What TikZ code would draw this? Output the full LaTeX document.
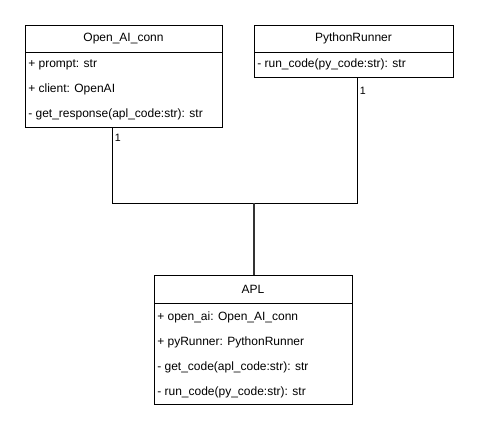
\documentclass[tikz,border=0pt]{standalone}
\usepackage{fontspec}
\setmainfont{Liberation Sans}
\usetikzlibrary{fit}
\begin{document}
\begin{tikzpicture}[x=0.75pt,y=-0.75pt,
  font=\fontsize{9}{11}\selectfont,
  box/.style={draw=black, line width=0.75pt, inner sep=0pt, fill=white},
  head/.style={anchor=center, inner sep=0pt},
  attr/.style={anchor=west, inner sep=0pt},
  mult/.style={font=\fontsize{8}{9}\selectfont, anchor=west, inner sep=0pt},
  link/.style={draw=black, line width=0.75pt},
  stem/.style={draw=black!80, line width=1.3pt}]
\useasboundingbox[fill=white] (0,0) rectangle (479,436);

% connectors
\coordinate (jl) at (112,203);
\coordinate (jr) at (357,203);
\coordinate (jm) at (254,203);

% Open_AI_conn
\node[box, fit={(25,25) (222,127)}] (oa) {};
\node[box, fit={(25,25) (222,52)}] (oah) {};
\node[head] (oat) at (oah.center) {Open\_AI\_conn};
\node[attr] (oa1) at (28,64.5) {+ prompt: str};
\node[attr] (oa2) at (28,89.5) {+ client: OpenAI};
\node[attr] (oa3) at (28,114.5) {- get\_response(apl\_code:str): str};

% PythonRunner
\node[box, fit={(254,25) (453,77)}] (pr) {};
\node[box, fit={(254,25) (453,52)}] (prh) {};
\node[head] (prt) at (prh.center) {PythonRunner};
\node[attr] (pr1) at (257,64.5) {- run\_code(py\_code:str): str};

% APL
\node[box, fit={(154,275) (352,404)}] (apl) {};
\node[box, fit={(154,275) (352,303)}] (aplh) {};
\node[head] (aplt) at (aplh.center) {APL};
\node[attr] (apl1) at (157,317) {+ open\_ai: Open\_AI\_conn};
\node[attr] (apl2) at (157,342) {+ pyRunner: PythonRunner};
\node[attr] (apl3) at (157,367) {- get\_code(apl\_code:str): str};
\node[attr] (apl4) at (157,392) {- run\_code(py\_code:str): str};

\draw[link] (oa.south -| jl) -- (jl) -- (jr) -- (pr.south -| jr);
\draw[stem] (jm) -- (apl.north -| jm);

\node[mult] (m1) at (114.5,138) {1};
\node[mult] (m2) at (359.5,91) {1};
\end{tikzpicture}
\end{document}
